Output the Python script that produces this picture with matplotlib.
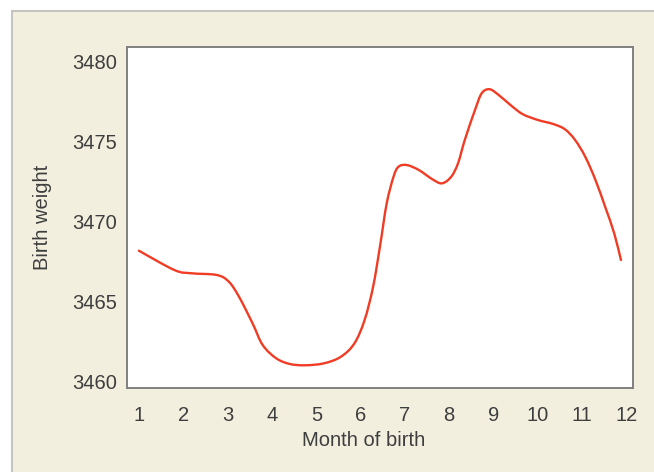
import matplotlib
matplotlib.use("Agg")
import matplotlib.pyplot as plt
import numpy as np
from matplotlib.patches import Rectangle, PathPatch
from matplotlib.path import Path

# Data (month of birth, smoothed birth weight)
month = [0.993, 1.797, 2.181, 2.756, 3.025, 3.255, 3.560, 3.790, 4.097, 4.404,
         4.749, 5.169, 5.553, 5.860, 6.090, 6.282, 6.436, 6.589, 6.743, 6.856,
         7.047, 7.316, 7.623, 7.837, 8.045, 8.199, 8.352, 8.582, 8.734, 8.912,
         9.117, 9.386, 9.655, 10.000, 10.345, 10.612, 10.842, 11.072, 11.302,
         11.533, 11.725, 11.878]
weight = [3468.19, 3466.98, 3466.78, 3466.67, 3466.25, 3465.31, 3463.65, 3462.29,
          3461.46, 3461.11, 3461.03, 3461.15, 3461.56, 3462.40, 3463.86, 3465.94,
          3468.44, 3471.15, 3472.81, 3473.44, 3473.54, 3473.23, 3472.65, 3472.40,
          3472.81, 3473.65, 3475.11, 3476.98, 3478.03, 3478.28, 3477.92, 3477.29,
          3476.73, 3476.36, 3476.11, 3475.78, 3475.11, 3474.06, 3472.61, 3470.84,
          3469.28, 3467.61]
x_ticks = list(range(1, 13))
x_labels = [str(m) for m in x_ticks]
y_ticks = [3460, 3465, 3470, 3475, 3480]

W, H = 654, 472
fig = plt.figure(figsize=(W / 100, H / 100), dpi=100, facecolor="white")
plt.rcParams["font.family"] = ["Liberation Sans", "DejaVu Sans"]

bg = Rectangle((12 / W, -0.1), 1.2, (H - 11) / H + 0.1, transform=fig.transFigure,
               facecolor="#f2efdf", edgecolor="#c4c4c0", linewidth=1.5, zorder=-10)
fig.patches.append(bg)

ax = fig.add_axes([127 / W, (H - 388) / H, (633 - 127) / W, (388 - 47) / H])
ax.set_zorder(1)
ax.set_facecolor("white")
ax.set_xlim(0.725, 12.15)
ax.set_ylim(3459.61, 3480.92)


def smooth_path(xs, ys, transform):
    # Catmull-Rom curve through the points, drawn as cubic Bezier segments
    pts = transform.transform(np.column_stack([xs, ys]))
    n = len(pts)
    verts = [pts[0]]
    codes = [Path.MOVETO]
    for i in range(n - 1):
        p0 = pts[i - 1] if i > 0 else pts[i]
        p1, p2 = pts[i], pts[i + 1]
        p3 = pts[i + 2] if i + 2 < n else pts[i + 1]
        c1 = p1 + (p2 - p0) / 6.0
        c2 = p2 - (p3 - p1) / 6.0
        verts += [c1, c2, p2]
        codes += [Path.CURVE4] * 3
    return Path(verts, codes)


path = smooth_path(month, weight, ax.transData)
ax.add_patch(PathPatch(path, transform=None, facecolor="none",
                       edgecolor="#f03c24", linewidth=1.7, capstyle="round",
                       joinstyle="round", clip_on=False))

ax.set_xticks(x_ticks)
ax.set_xticklabels(x_labels)
ax.set_yticks(y_ticks)

txt = "#3e3e3e"
ax.tick_params(axis="both", length=0, labelsize=14.5, labelcolor=txt)
ax.tick_params(axis="x", pad=13)
ax.tick_params(axis="y", pad=7)
for s in ax.spines.values():
    s.set_color("#808080")
    s.set_linewidth(1.4)

ax.set_xlabel("Month of birth", fontsize=14.5, color=txt)
ax.xaxis.label.set_va("center")
ax.xaxis.set_label_coords((364 - 127) / (633 - 127), (388 - 441) / (388 - 47))
ax.set_ylabel("Birth weight", fontsize=14.5, color=txt)
ax.yaxis.label.set_va("center")
ax.yaxis.set_label_coords((43 - 127) / (633 - 127), 0.5)

fig.savefig("out.png", dpi=100, facecolor=fig.get_facecolor())
